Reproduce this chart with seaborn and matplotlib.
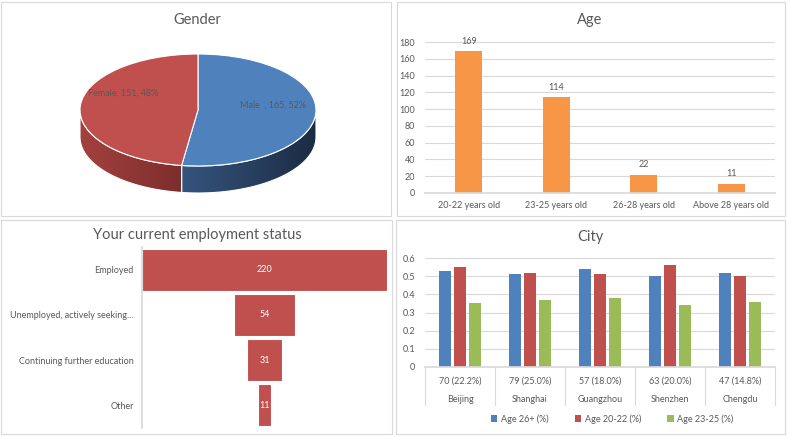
import numpy as np
import pandas as pd
import matplotlib
matplotlib.use("Agg")
import matplotlib.pyplot as plt
import seaborn as sns
from matplotlib.patches import Polygon, Rectangle
from matplotlib.colors import LinearSegmentedColormap

# ---------------- data ----------------
gender_labels = ["Male  ", "Female"]
gender_counts = [165, 151]
gender_pcts = ["52%", "48%"]

age_labels = ["20-22 years old", "23-25 years old", "26-28 years old", "Above 28 years old"]
age_counts = [169, 114, 22, 11]

emp_labels = ["Employed", "Unemployed, actively seeking...", "Continuing further education", "Other"]
emp_counts = [220, 54, 31, 11]

cities = ["Beijing", "Shanghai", "Guangzhou", "Shenzhen", "Chengdu"]
city_counts = ["70 (22.2%)", "79 (25.0%)", "57 (18.0%)", "63 (20.0%)", "47 (14.8%)"]
age26_plus = [0.53, 0.51, 0.54, 0.50, 0.52]
age20_22 = [0.55, 0.52, 0.51, 0.56, 0.50]
age23_25 = [0.35, 0.37, 0.38, 0.34, 0.36]
city_groups = ["Age 26+ (%)", "Age 20-22 (%)", "Age 23-25 (%)"]

# ---------------- style ----------------
sns.set_theme(style="white")
plt.rcParams['font.family'] = ['Lato', 'DejaVu Sans']
TXT = '#595959'
GRID = '#D9D9D9'
BLUE, RED, GREEN, ORANGE = '#4F81BD', '#C0504D', '#9BBB59', '#F79646'

W, H = 788, 437
fig = plt.figure(figsize=(W / 100, H / 100), dpi=100)


def px_axes(l, t, r, b):
    return fig.add_axes([l / W, 1 - b / H, (r - l) / W, (b - t) / H])


def panel(l, t, r, b):
    fig.add_artist(Rectangle((l / W, 1 - b / H), (r - l) / W, (b - t) / H,
                             transform=fig.transFigure, fill=False,
                             edgecolor=GRID, lw=0.8))


panel(1, 2, 391, 216)
panel(397, 2, 785, 216)
panel(1, 220, 392, 434)
panel(396, 220, 785, 434)

fig.text(197 / W, 1 - 20 / H, "Gender", ha='center', va='center', fontsize=10.5, color=TXT)
fig.text(590 / W, 1 - 20 / H, "Age", ha='center', va='center', fontsize=10.5, color=TXT)
fig.text(197 / W, 1 - 235 / H, "Your current employment status", ha='center', va='center',
         fontsize=10.5, color=TXT)
fig.text(590 / W, 1 - 237 / H, "City", ha='center', va='center', fontsize=10.5, color=TXT)

# ---------------- gender 3D pie ----------------
ax = px_axes(60, 40, 336, 200)
depth = 27 / 56
wedges, _ = ax.pie(gender_counts, colors=[BLUE, RED], startangle=90, counterclock=False,
                   wedgeprops=dict(edgecolor='white', linewidth=0.8, zorder=3))
side_cols = {0: ('#35557E', '#1B2B42'), 1: ('#A3413E', '#7C2E2C')}


def visible_span(a, b):
    out = []
    for k in (-1, 0, 1):
        lo, hi = k * 360 - 180, k * 360
        s, e = max(a, lo), min(b, hi)
        if e > s:
            out.append((s, e))
    return out


for i, w in enumerate(wedges):
    for s, e in visible_span(w.theta1, w.theta2):
        t = np.radians(np.linspace(s, e, 120))
        xs, ys = np.cos(t), np.sin(t)
        verts = np.concatenate([np.column_stack([xs, ys]),
                                np.column_stack([xs[::-1], ys[::-1] - depth])])
        poly = Polygon(verts, closed=True, facecolor='none', edgecolor='white', lw=0.8, zorder=2)
        ax.add_patch(poly)
        cmap = LinearSegmentedColormap.from_list('side', list(side_cols[i]))
        im = ax.imshow(np.linspace(0, 1, 256)[None, :], cmap=cmap,
                       extent=[xs.min(), xs.max(), -1 - depth, 0.1],
                       aspect='auto', zorder=1)
        im.set_clip_path(poly)
    mid = np.radians((w.theta1 + w.theta2) / 2)
    ax.text(0.64 * np.cos(mid), 0.64 * np.sin(mid) + 0.13 + 0.12 * (np.cos(mid) < 0),
            f"{gender_labels[i]}, {gender_counts[i]}, {gender_pcts[i]}",
            ha='center', va='center', fontsize=6.5, color=TXT, zorder=5)

ax.set_aspect('auto')
ax.set_xlim(-(198 - 60) / 118, (336 - 198) / 118)
ax.set_ylim(-(200 - 110) / 56, (110 - 40) / 56)
ax.axis('off')

# ---------------- age bars ----------------
ax = px_axes(425, 42, 775, 193)
sns.barplot(x=age_labels, y=age_counts, color=ORANGE, saturation=1, width=0.31,
            linewidth=0, ax=ax)
for c in ax.containers:
    ax.bar_label(c, padding=4, fontsize=6.5, color=TXT)
ax.set_xlim(-0.5, len(age_labels) - 0.5)
ax.set_ylim(0, 180)
ax.set_yticks(range(0, 181, 20))
ax.grid(axis='y', color=GRID, lw=0.8)
ax.set_axisbelow(True)
sns.despine(ax=ax, left=True, top=True, right=True)
ax.spines['bottom'].set_color(GRID)
ax.tick_params(length=0, labelsize=6.5, labelcolor=TXT)
ax.tick_params(axis='y', pad=7)
ax.tick_params(axis='x', pad=6)
ax.set_xlabel('')
ax.set_ylabel('')

# ---------------- employment funnel ----------------
ax = px_axes(142, 247, 387, 428)
vals = np.array(emp_counts)
bars = ax.barh(emp_labels, vals, left=-vals / 2, height=0.93, color=RED,
               edgecolor='white', linewidth=0.8)
ax.bar_label(bars, label_type='center', fontsize=6.5, color='white')
ax.set_xlim(-110, 110)
ax.set_ylim(len(emp_labels) - 0.5, -0.5)
ax.set_xticks([])
for s in ['top', 'right', 'bottom']:
    ax.spines[s].set_visible(False)
ax.spines['left'].set_color(GRID)
ax.tick_params(length=0, labelsize=6.5, labelcolor=TXT, pad=6)

# ---------------- city grouped bars ----------------
ax = px_axes(425, 258, 775, 367)
df = pd.DataFrame({
    'city': cities * 3,
    'group': np.repeat(city_groups, len(cities)),
    'value': age26_plus + age20_22 + age23_25,
})
sns.barplot(data=df, x='city', y='value', hue='group', palette=[BLUE, RED, GREEN],
            saturation=1, width=0.63, gap=0.2, linewidth=0, ax=ax)
ax.set_ylim(0, 0.6)
ax.set_yticks(np.arange(0, 0.61, 0.1))
ax.set_yticklabels(['0', '0.1', '0.2', '0.3', '0.4', '0.5', '0.6'])
ax.set_xticks([])
ax.grid(axis='y', color=GRID, lw=0.8)
ax.set_axisbelow(True)
sns.despine(ax=ax, left=True, top=True, right=True)
ax.spines['bottom'].set_color(GRID)
ax.tick_params(length=0, labelsize=6.5, labelcolor=TXT)
ax.tick_params(axis='y', pad=7)
ax.set_xlabel('')
ax.set_ylabel('')
tr = ax.get_xaxis_transform()
for k in range(len(cities) + 1):
    ax.plot([k - 0.5, k - 0.5], [0, -38 / 109], transform=tr, color=GRID, lw=0.8, clip_on=False)
for k, (cnt, name) in enumerate(zip(city_counts, cities)):
    ax.annotate(cnt, xy=(k, 0), xycoords=tr, xytext=(0, -14 * 0.72), textcoords='offset points',
                ha='center', va='center', fontsize=6.5, color=TXT)
    ax.annotate(name, xy=(k, 0), xycoords=tr, xytext=(0, -32 * 0.72), textcoords='offset points',
                ha='center', va='center', fontsize=6.5, color=TXT)
ax.set_xlim(-0.5, len(cities) - 0.5)
handles, labels = ax.get_legend_handles_labels()
ax.legend(handles, labels, loc='center', bbox_to_anchor=(0.535, -0.477), ncol=3, frameon=False,
          fontsize=6.5, labelcolor=TXT, handlelength=0.7, handleheight=0.7, handletextpad=0.4,
          columnspacing=2.9)

fig.savefig('out.png', dpi=100)
